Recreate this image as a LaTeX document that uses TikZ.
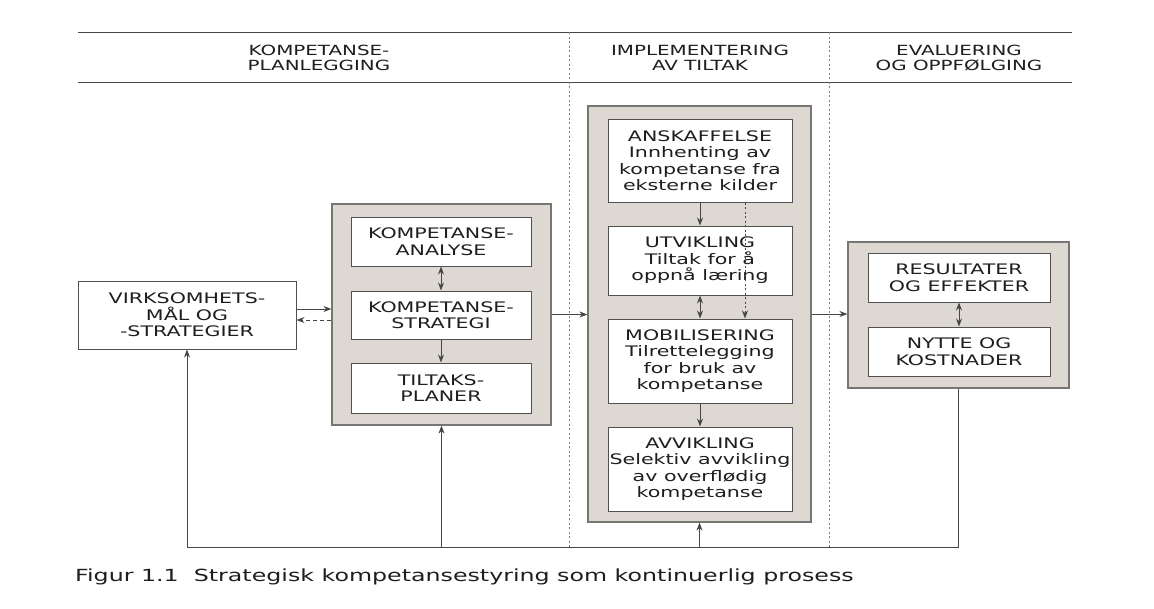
\documentclass[tikz,border=0pt]{standalone}
\usepackage{fontspec}
\setmainfont{DejaVu Sans}[FakeStretch=1.42]
\usetikzlibrary{arrows.meta}
\definecolor{grayfill}{RGB}{221,217,210}
\definecolor{grayedge}{RGB}{120,118,115}
\definecolor{boxedge}{RGB}{80,80,80}
\definecolor{linec}{RGB}{70,70,70}
\definecolor{textc}{RGB}{30,30,30}
\newcommand\bxfont{\fontsize{14.5}{16.5}\selectfont}
\newcommand\hdfont{\fontsize{14}{15}\selectfont}
\newcommand\cpfont{\fontsize{16.7}{19}\selectfont}
\begin{document}
\begin{tikzpicture}[x=1pt,y=-1pt,
  outerbox/.style={draw=grayedge, fill=grayfill, line width=1.2pt, inner sep=0pt},
  innerbox/.style={draw=boxedge, fill=white, line width=1pt, inner sep=0pt, align=center, text=textc, font=\bxfont},
  headtxt/.style={align=center, text=textc, font=\hdfont, inner sep=0pt},
  rule/.style={draw=linec, line width=0.9pt},
  sep/.style={draw=linec!70, line width=0.7pt, dash pattern=on 2pt off 2.5pt},
  conn/.style={draw=linec, line width=0.9pt},
  arr/.style={conn, -{Stealth[length=8pt,width=6pt]}},
  darr/.style={conn, {Stealth[length=8pt,width=6pt]}-{Stealth[length=8pt,width=6pt]}},
  dotarr/.style={arr, dash pattern=on 2pt off 2.5pt},
]
\useasboundingbox[fill=white] (0,0) rectangle (1154,608);

% header rules and column separators
\coordinate (rtl) at (78,32);
\coordinate (rtr) at (1072,32);
\coordinate (rbl) at (78,82);
\coordinate (rbr) at (1072,82);
\draw[rule] (rtl) -- (rtr);
\draw[rule] (rbl) -- (rbr);
\coordinate (s1t) at (569,32);
\coordinate (s1b) at (569,547);
\coordinate (s2t) at (829,32);
\coordinate (s2b) at (829,547);
\draw[sep] (s1t) -- (s1b);
\draw[sep] (s2t) -- (s2b);

\node[headtxt] (h1) at (319,58) {KOMPETANSE-\\PLANLEGGING};
\node[headtxt] (h2) at (700,58) {IMPLEMENTERING\\AV TILTAK};
\node[headtxt] (h3) at (959,58) {EVALUERING\\OG OPPFØLGING};

% left box
\node[innerbox, minimum width=218, minimum height=68] (virk) at (187,315) {VIRKSOMHETS-\\MÅL OG\\-STRATEGIER};

% column 1 group
\node[outerbox, minimum width=219, minimum height=221] (g1) at (441.5,314.5) {};
\node[innerbox, minimum width=180, minimum height=49] (ana) at (441,241.5) {KOMPETANSE-\\ANALYSE};
\node[innerbox, minimum width=180, minimum height=48] (str) at (441,315) {KOMPETANSE-\\STRATEGI};
\node[innerbox, minimum width=180, minimum height=50] (pla) at (441,388) {TILTAKS-\\PLANER};

% column 2 group
\node[outerbox, minimum width=223, minimum height=416] (g2) at (699.5,314) {};
\node[innerbox, minimum width=184, minimum height=83] (ans) at (700,160.5) {ANSKAFFELSE\\Innhenting av\\kompetanse fra\\eksterne kilder};
\node[innerbox, minimum width=184, minimum height=69] (utv) at (700,260.5) {UTVIKLING\\Tiltak for å\\oppnå læring};
\node[innerbox, minimum width=184, minimum height=84] (mob) at (700,361) {MOBILISERING\\Tilrettelegging\\for bruk av\\kompetanse};
\node[innerbox, minimum width=184, minimum height=84] (avv) at (700,469) {AVVIKLING\\Selektiv avvikling\\av overflødig\\kompetanse};

% column 3 group
\node[outerbox, minimum width=221, minimum height=146] (g3) at (958.5,315) {};
\node[innerbox, minimum width=182, minimum height=49] (res) at (959,277.5) {RESULTATER\\OG EFFEKTER};
\node[innerbox, minimum width=182, minimum height=49] (nyt) at (959,351.5) {NYTTE OG\\KOSTNADER};

% connectors inside groups
\draw[darr] (ana) -- (str);
\draw[arr] (str) -- (pla);
\draw[arr] (ans) -- (utv);
\draw[darr] (utv) -- (mob);
\draw[arr] (mob) -- (avv);
\draw[dotarr] ([xshift=45pt]ans.south) -- ([xshift=45pt]mob.north);
\draw[darr] (res) -- (nyt);

% connectors between groups
\draw[arr] ([yshift=6pt]virk.east) -- ([yshift=6pt]virk.east -| g1.west);
\draw[arr, dash pattern=on 4pt off 3pt] ([yshift=-5pt]virk.east -| g1.west) -- ([yshift=-5pt]virk.east);
\draw[arr] (g1.east) -- (g1.east -| g2.west);
\draw[arr] (g2.east) -- (g2.east -| g3.west);

% feedback loop
\coordinate (bl) at (187,547);
\draw[conn] (g3.south) -- (g3.south |- bl) -- (bl);
\draw[arr] (bl) -- (virk.south);
\draw[arr] (g1.south |- bl) -- (g1.south);
\draw[arr] (g2.south |- bl) -- (g2.south);

% caption
\node[anchor=base west, inner sep=0pt, text=textc, font=\cpfont] (cap) at (75,581) {Figur 1.1\ \ Strategisk kompetansestyring som kontinuerlig prosess};
\end{tikzpicture}
\end{document}
